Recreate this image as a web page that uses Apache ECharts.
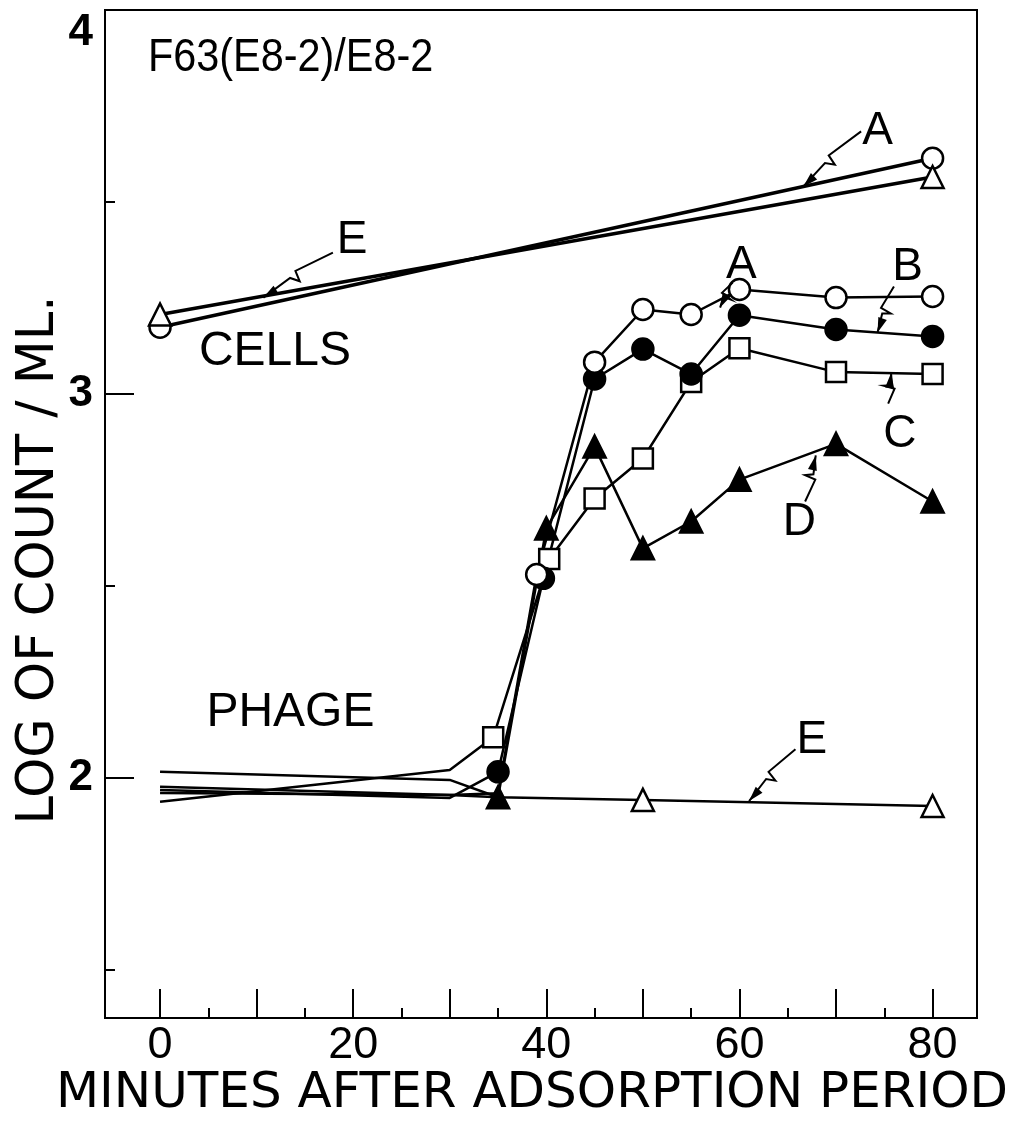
<!DOCTYPE html>
<html>
<head>
<meta charset="utf-8">
<script src="https://cdn.jsdelivr.net/npm/echarts@6/dist/echarts.min.js"></script>
<style>
html,body{margin:0;padding:0;background:#fff;}
#c{width:1024px;height:1122px;}
</style>
</head>
<body>
<div id="c"></div>
<script>
// ---- data ----
const xTickLabels = [0, 20, 40, 60, 80];
const yTickLabels = [2, 3, 4];

// CELLS curves
const cellsA_x = [0, 80];
const cellsA_y = [3.174, 3.614];
const cellsE_x = [0, 80];
const cellsE_y = [3.207, 3.565];

// PHAGE curves
const phageA_x = [0, 30, 35, 39, 45, 50, 55, 60, 70, 80];
const phageA_y = [1.977, 1.956, 1.96, 2.53, 3.083, 3.22, 3.207, 3.272, 3.251, 3.254];
const phageB_x = [0, 30, 35, 39.7, 45, 50, 55, 60, 70, 80];
const phageB_y = [1.969, 1.948, 2.016, 2.52, 3.039, 3.117, 3.052, 3.205, 3.168, 3.150];
const phageC_x = [0, 30, 34.5, 40.3, 45, 50, 55, 60, 70, 80];
const phageC_y = [1.938, 2.021, 2.106, 2.57, 2.728, 2.832, 3.031, 3.119, 3.057, 3.052];
const phageD_x = [0, 30, 35, 40, 45, 50, 55, 60, 70, 80];
const phageD_y = [2.016, 1.995, 1.95, 2.65, 2.863, 2.598, 2.668, 2.777, 2.870, 2.720];
const phageE_x = [0, 30, 35, 50, 80];
const phageE_y = [1.961, 1.956, 1.95, 1.943, 1.927];

// annotations (text, data position)
const labelText = ['A', 'E', 'CELLS', 'A', 'B', 'C', 'D', 'PHAGE', 'E'];
const labelX = [74.3, 19.9, 11.9, 60.2, 77.4, 76.6, 66.2, 13.5, 67.5];
const labelY = [3.684, 3.399, 3.109, 3.334, 3.329, 2.894, 2.666, 2.171, 2.098];
// pointer arrows (from near label -> to curve), data coords
const arrowFromX = [72.6, 17.9, 59.3, 76.0, 75.4, 66.8, 65.8];
const arrowFromY = [3.684, 3.368, 3.290, 3.280, 2.975, 2.720, 2.075];
const arrowToX = [66.6, 10.7, 58.0, 74.3, 75.7, 67.9, 61.0];
const arrowToY = [3.540, 3.251, 3.225, 3.160, 3.055, 2.840, 1.940];

const title = 'F63(E8-2)/E8-2';
const xName = 'MINUTES AFTER ADSORPTION PERIOD';
const yName = 'LOG OF COUNT / ML.';

// ---- chart ----
const FONT = "'Liberation Sans', 'DejaVu Sans', sans-serif";
const WIDE = "'DejaVu Sans', 'Liberation Sans', sans-serif";
const zip = (xs, ys) => xs.map((x, i) => [x, ys[i]]);
const chart = echarts.init(document.getElementById('c'), null, {renderer: 'canvas'});

function seriesOf(name, xs, ys, symbol, filled, firstMarker, size, lw) {
  return {
    type: 'line', name: name,
    data: zip(xs, ys).map((p, i) => i < firstMarker ? {value: p, symbol: 'none'} : {value: p}),
    symbol: symbol, symbolSize: size,
    showAllSymbol: true,
    lineStyle: {color: '#000', width: lw},
    itemStyle: {color: filled ? '#000' : '#fff', borderColor: '#000', borderWidth: 2.5},
    emphasis: {disabled: true},
    animation: false, z: 3
  };
}

const option = {
  animation: false,
  backgroundColor: '#fff',
  grid: {left: 105, top: 10, width: 872, height: 1008, show: true, borderColor: '#000', borderWidth: 2,
         containLabel: false, outerBoundsMode: 'none'},
  xAxis: [{
    type: 'value', min: -5.7, max: 84.6,
    axisLine: {show: true, onZero: false, lineStyle: {color: '#000', width: 2}},
    axisTick: {show: true, inside: true, length: 29, lineStyle: {color: '#000', width: 2},
               customValues: [0, 10, 20, 30, 40, 50, 60, 70, 80]},
    axisLabel: {show: true, customValues: xTickLabels, margin: 5, color: '#000',
                fontSize: 45, fontFamily: FONT},
    splitLine: {show: false}
  }, {
    type: 'value', min: -5.7, max: 84.6, position: 'bottom',
    axisLine: {show: false, onZero: false},
    axisTick: {show: true, inside: true, length: 10, lineStyle: {color: '#000', width: 2},
               customValues: [5, 15, 25, 35, 45, 55, 65, 75]},
    axisLabel: {show: false}, splitLine: {show: false}
  }],
  yAxis: [{
    type: 'value', min: 1.375, max: 4.0,
    axisLine: {show: true, onZero: false, lineStyle: {color: '#000', width: 2}},
    axisTick: {show: true, inside: true, length: 29, lineStyle: {color: '#000', width: 2},
               customValues: [2, 3]},
    axisLabel: {show: true, customValues: yTickLabels, margin: 12, color: '#000',
                fontSize: 44, fontWeight: 'bold', fontFamily: FONT,
                formatter: v => v === 4 ? '{t|4}' : String(v),
                rich: {t: {fontSize: 44, fontWeight: 'bold', fontFamily: FONT, color: '#000', padding: [46, 0, 0, 0]}}},
    splitLine: {show: false}
  }, {
    type: 'value', min: 1.375, max: 4.0, position: 'left',
    axisLine: {show: false, onZero: false},
    axisTick: {show: true, inside: true, length: 10, lineStyle: {color: '#000', width: 2},
               customValues: [1.5, 2.5, 3.5]},
    axisLabel: {show: false}, splitLine: {show: false}
  }],
  series: [
    seriesOf('cellsA', cellsA_x, cellsA_y, 'circle', false, 0, 21, 3.5),
    seriesOf('cellsE', cellsE_x, cellsE_y, 'triangle', false, 0, 22, 3.5),
    seriesOf('phageE', phageE_x, phageE_y, 'triangle', false, 3, 22, 2.5),
    seriesOf('phageD', phageD_x, phageD_y, 'triangle', true, 2, 22, 2.5),
    seriesOf('phageC', phageC_x, phageC_y, 'rect', false, 2, 20, 2.5),
    seriesOf('phageB', phageB_x, phageB_y, 'circle', true, 2, 21, 2.5),
    seriesOf('phageA', phageA_x, phageA_y, 'circle', false, 3, 21, 2.5)
  ]
};
chart.setOption(option);

// ---- annotations drawn via graphic, positioned from data coords ----
function px(x, y) { return chart.convertToPixel({xAxisIndex: 0, yAxisIndex: 0}, [x, y]); }
const graphics = [];
graphics.push({type: 'text', x: 148, y: 58, scaleX: 0.9, silent: true,
  style: {text: title, fill: '#000', font: '46px ' + FONT, textVerticalAlign: 'middle'}});
// axis titles
graphics.push({type: 'text', x: 532, y: 1094, silent: true,
  style: {text: xName, fill: '#000', font: '50px ' + WIDE, textAlign: 'center', textVerticalAlign: 'middle'}});
graphics.push({type: 'text', x: 40, y: 560, rotation: Math.PI / 2, silent: true,
  style: {text: yName, fill: '#000', font: '51px ' + WIDE, textAlign: 'center', textVerticalAlign: 'middle'}});
labelText.forEach((t, i) => {
  const p = px(labelX[i], labelY[i]);
  graphics.push({type: 'text', x: p[0], y: p[1], silent: true,
    style: {text: t, fill: '#000', font: (t.length > 1 ? '48px ' : '46px ') + FONT,
            textAlign: 'center', textVerticalAlign: 'middle'}});
});
arrowFromX.forEach((_, i) => {
  const a = px(arrowFromX[i], arrowFromY[i]);
  const b = px(arrowToX[i], arrowToY[i]);
  const dx = b[0] - a[0], dy = b[1] - a[1];
  const L = Math.hypot(dx, dy), ux = dx / L, uy = dy / L, nx = -uy, ny = ux;
  const lp = t => [a[0] + dx * t, a[1] + dy * t];
  const k1 = lp(0.5), k2 = lp(0.6);
  const pts = [a, [k1[0] + nx * 5, k1[1] + ny * 5], [k1[0] - nx * 6 + ux * 2, k1[1] - ny * 6 + uy * 2],
               [k2[0] + nx * 2, k2[1] + ny * 2], b];
  graphics.push({type: 'polyline', silent: true, shape: {points: pts},
    style: {stroke: '#000', lineWidth: 2, fill: null}, z: 10});
  const base = [b[0] - ux * 15, b[1] - uy * 15];
  graphics.push({type: 'polygon', silent: true,
    shape: {points: [b, [base[0] + nx * 4.5, base[1] + ny * 4.5], [base[0] - nx * 4.5, base[1] - ny * 4.5]]},
    style: {fill: '#000'}, z: 10});
});
chart.setOption({graphic: graphics});
</script>
</body>
</html>
